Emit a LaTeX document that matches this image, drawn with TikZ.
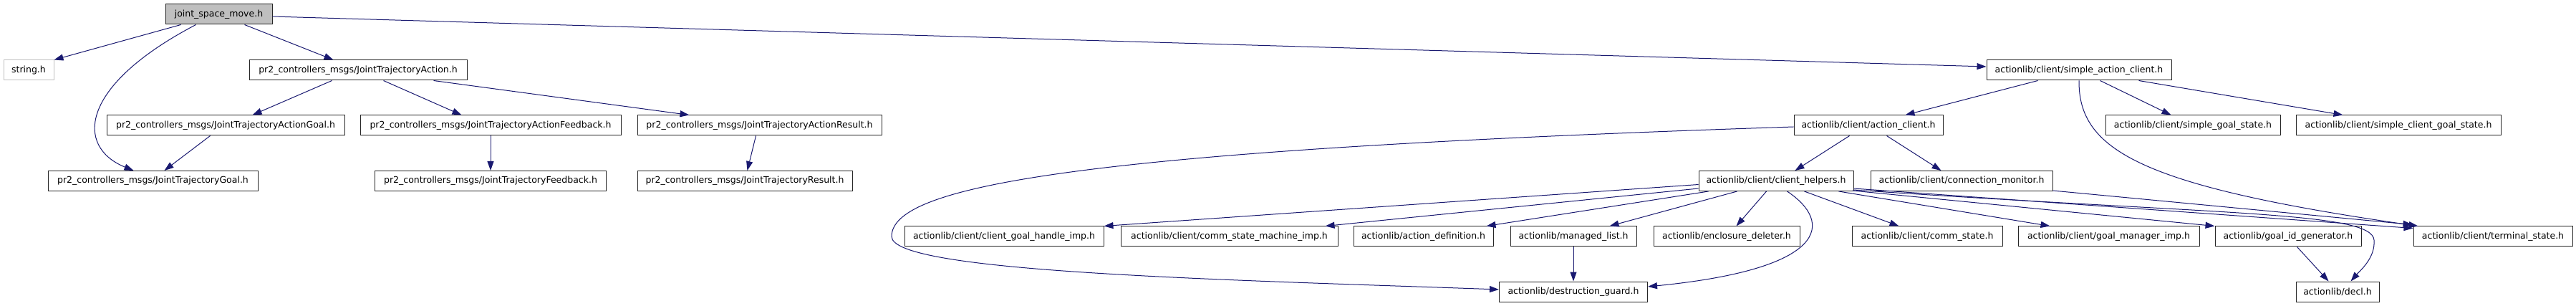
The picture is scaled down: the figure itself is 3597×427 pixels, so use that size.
\documentclass[tikz,border=0pt]{standalone}
\usepackage{fontspec}
\newfontfamily\dvs{DejaVu Sans}
\usetikzlibrary{arrows.meta,calc}
\definecolor{edgeblue}{HTML}{191970}
\definecolor{fillgray}{HTML}{BFBFBF}
\begin{document}
\begin{tikzpicture}[x=1pt,y=-1pt,
  box/.style={draw=black!85, line width=1pt, minimum height=28pt, inner sep=0pt,
    font=\dvs\fontsize{12.5}{15}\selectfont, anchor=center},
  edge/.style={draw=edgeblue, line width=1pt, -{Triangle[length=13pt,width=9pt]}}]
\useasboundingbox (0,0) rectangle (3597,427);
% row 1
\node[box, minimum width=149pt, fill=fillgray] (jsm) at (305.5,20) {joint\_space\_move.h};
% row 2
\node[box, minimum width=70pt, draw=fillgray] (str) at (40,98) {string.h};
\node[box, minimum width=304pt] (jta) at (500,98) {pr2\_controllers\_msgs/JointTrajectoryAction.h};
\node[box, minimum width=258pt] (sac) at (2903,98) {actionlib/client/simple\_action\_client.h};
% row 3
\node[box, minimum width=332pt] (jtag) at (315,175) {pr2\_controllers\_msgs/JointTrajectoryActionGoal.h};
\node[box, minimum width=364pt] (jtaf) at (685,175) {pr2\_controllers\_msgs/JointTrajectoryActionFeedback.h};
\node[box, minimum width=341pt] (jtar) at (1060.5,175) {pr2\_controllers\_msgs/JointTrajectoryActionResult.h};
\node[box, minimum width=208pt] (ac) at (2609,175) {actionlib/client/action\_client.h};
\node[box, minimum width=244pt] (sgs) at (3062,175) {actionlib/client/simple\_goal\_state.h};
\node[box, minimum width=286pt] (scgs) at (3349,175) {actionlib/client/simple\_client\_goal\_state.h};
% row 4
\node[box, minimum width=293pt] (jtg) at (213.5,252.5) {pr2\_controllers\_msgs/JointTrajectoryGoal.h};
\node[box, minimum width=323pt] (jtf) at (685,252.5) {pr2\_controllers\_msgs/JointTrajectoryFeedback.h};
\node[box, minimum width=300pt] (jtr) at (1040,252.5) {pr2\_controllers\_msgs/JointTrajectoryResult.h};
\node[box, minimum width=216pt] (ch) at (2480,252.5) {actionlib/client/client\_helpers.h};
\node[box, minimum width=254pt] (cm) at (2739,252.5) {actionlib/client/connection\_monitor.h};
% row 5
\node[box, minimum width=278pt] (cghi) at (1402,330) {actionlib/client/client\_goal\_handle\_imp.h};
\node[box, minimum width=303pt] (csmi) at (1716.5,330) {actionlib/client/comm\_state\_machine\_imp.h};
\node[box, minimum width=195pt] (ad) at (1987.5,330) {actionlib/action\_definition.h};
\node[box, minimum width=176pt] (ml) at (2197,330) {actionlib/managed\_list.h};
\node[box, minimum width=204pt] (ed) at (2411,330) {actionlib/enclosure\_deleter.h};
\node[box, minimum width=210pt] (cs) at (2691,330) {actionlib/client/comm\_state.h};
\node[box, minimum width=253pt] (gmi) at (2944.5,330) {actionlib/client/goal\_manager\_imp.h};
\node[box, minimum width=204pt] (gig) at (3195,330) {actionlib/goal\_id\_generator.h};
\node[box, minimum width=222pt] (ts) at (3481,330) {actionlib/client/terminal\_state.h};
% row 6
\node[box, minimum width=207pt] (dg) at (2197,407) {actionlib/destruction\_guard.h};
\node[box, minimum width=116pt] (decl) at (3264,407) {actionlib/decl.h};

% edges from joint_space_move.h
\draw[edge] ($(jsm.south west)+(22,0)$) -- (str.north east);
\draw[edge] ($(jsm.south west)+(43,0)$) .. controls (110,120) and (105,205) .. ($(jtg.north west)+(120,0)$);
\draw[edge] ($(jsm.south west)+(111,0)$) -- ($(jta.north west)+(118,0)$);
\draw[edge] ($(jsm.east)+(0,3)$) -- ($(sac.west)+(0,-5)$);
% JointTrajectoryAction
\draw[edge] ($(jta.south west)+(116,0)$) -- ($(jtag.north west)+(204,0)$);
\draw[edge] ($(jta.south west)+(188,0)$) -- ($(jtaf.north west)+(142,0)$);
\draw[edge] ($(jta.south west)+(258,0)$) -- ($(jtar.north west)+(73,0)$);
\draw[edge] ($(jtag.south west)+(145,0)$) -- ($(jtg.north west)+(163,0)$);
\draw[edge] (jtaf.south) -- (jtf.north);
\draw[edge] ($(jtar.south west)+(166,0)$) -- ($(jtr.north west)+(154,0)$);
% simple_action_client
\draw[edge] ($(sac.south west)+(72,0)$) -- ($(ac.north west)+(156,0)$);
\draw[edge] ($(sac.south west)+(159,0)$) -- ($(sgs.north west)+(92,0)$);
\draw[edge] ($(sac.south west)+(213,0)$) -- ($(scgs.north west)+(66,0)$);
\draw[edge] (sac.south) .. controls (2902,210) and (2990,260) .. ($(ts.north west)+(7,0)$);
% action_client
\draw[edge] ($(ac.south west)+(78,0)$) -- ($(ch.north west)+(135,0)$);
\draw[edge] ($(ac.south west)+(130,0)$) -- ($(cm.north west)+(99,0)$);
\draw[edge] ($(ac.west)+(0,2)$) .. controls (1500,210) and (1245,260) .. (1245,330)
  .. controls (1245,380) and (1700,390) .. ($(dg.west)+(0,-3)$);
% client_helpers
\draw[edge] ($(ch.west)+(0,5)$) -- (cghi.north east);
\draw[edge] ($(ch.south west)+(0,-4)$) -- ($(csmi.north east)+(-18,0)$);
\draw[edge] ($(ch.south west)+(14,0)$) -- ($(ad.north east)+(-10,0)$);
\draw[edge] ($(ch.south west)+(54,0)$) -- ($(ml.north east)+(-38,0)$);
\draw[edge] ($(ch.south west)+(95,0)$) -- ($(ed.north west)+(116,0)$);
\draw[edge] ($(ch.south west)+(124,0)$) .. controls (2560,310) and (2555,375) .. ($(dg.east)+(0,-7)$);
\draw[edge] ($(ch.south west)+(148,0)$) -- ($(cs.north west)+(66,0)$);
\draw[edge] ($(ch.south west)+(196,0)$) -- ($(gmi.north west)+(45,0)$);
\draw[edge] ($(ch.south east)+(-2,-1)$) -- (gig.north west);
\draw[edge] ($(ch.south east)+(0,-4)$) -- ($(ts.north west)+(0,3)$);
\draw[edge] ($(ch.south east)+(0,-2)$) .. controls (3100,300) and (3312,295) .. (3315,335)
  .. controls (3317,360) and (3295,378) .. ($(decl.north west)+(77,0)$);
% connection_monitor
\draw[edge] ($(cm.south east)+(0,-1)$) -- ($(ts.north west)+(-1,-2)$);
% others
\draw[edge] ($(gig.south west)+(115,0)$) -- ($(decl.north west)+(46,0)$);
\draw[edge] (ml.south) -- (dg.north);
\end{tikzpicture}
\end{document}
